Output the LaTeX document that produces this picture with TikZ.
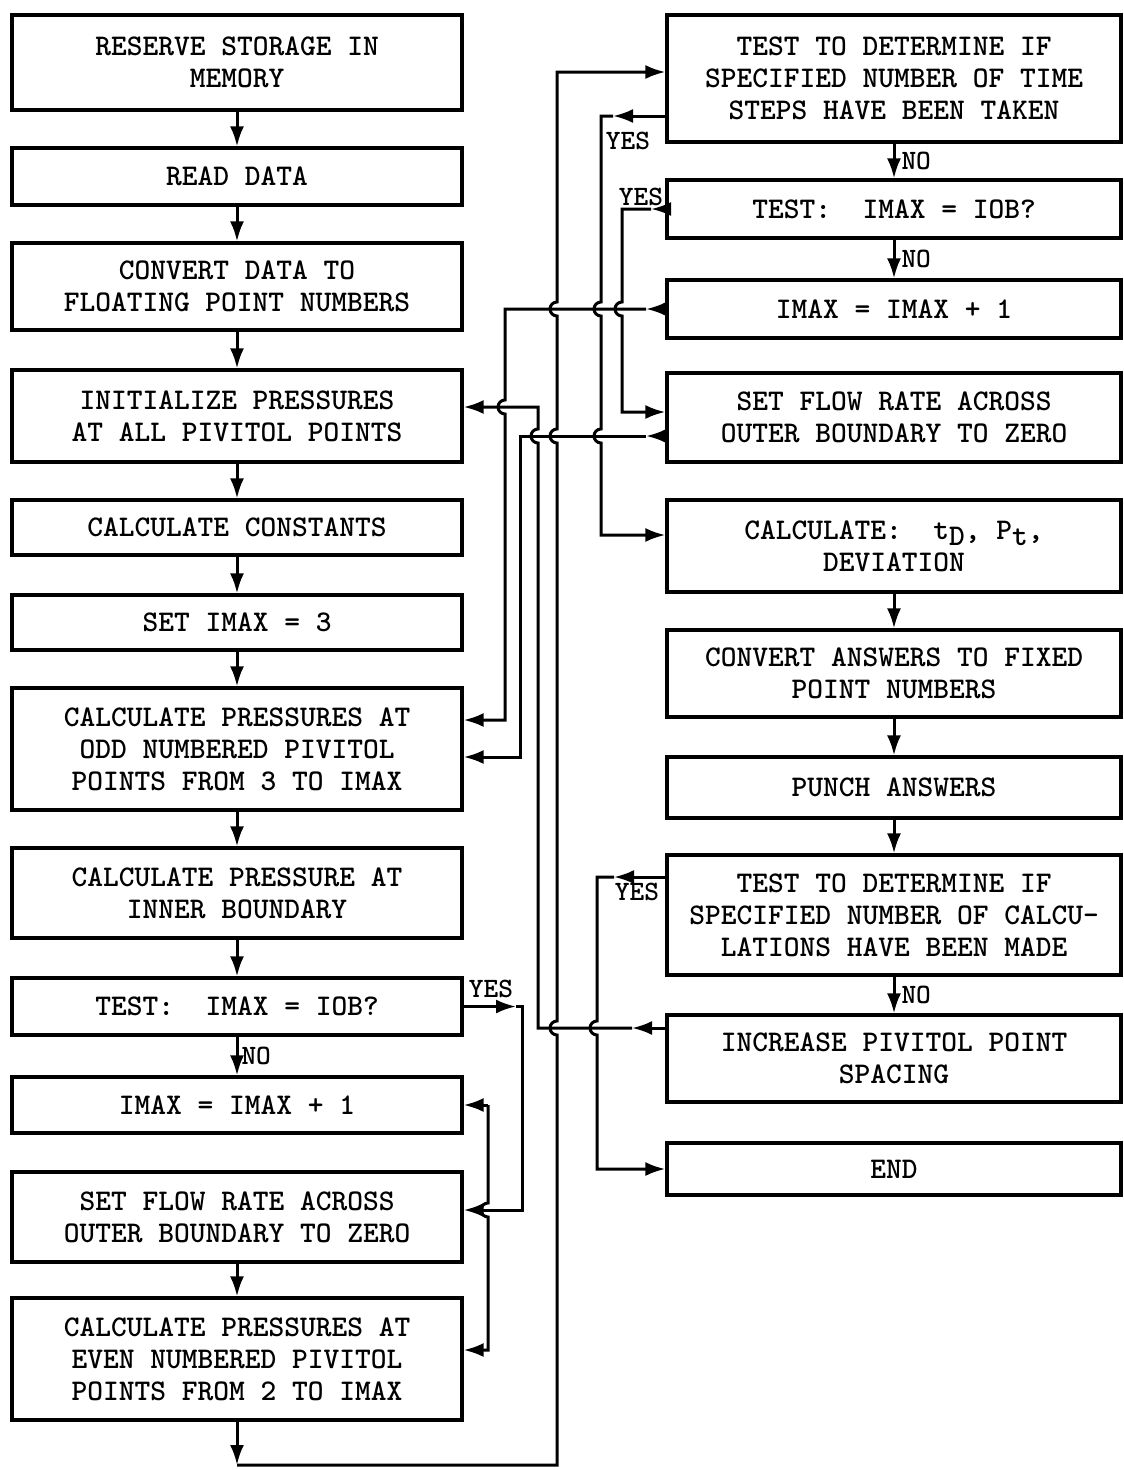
\documentclass[tikz,border=0pt]{standalone}
\usetikzlibrary{arrows.meta}

\begin{document}
\begin{tikzpicture}[x=1pt, y=-1pt,
  box/.style={draw, line width=3.2pt, minimum width=450pt, inner sep=0pt,
              align=center, font=\ttfamily\bfseries\fontsize{30}{32}\selectfont},
  rbox/.style={box, minimum width=454pt},
  arr/.style={-{Latex[length=20pt,width=14pt]}, line width=3pt},
  lbl/.style={font=\ttfamily\bfseries\fontsize{28}{30}\selectfont, inner sep=0pt},
]
\useasboundingbox (0,0) rectangle (1124,1470);

% left column
\node[box, minimum height=95pt] (mem) at (237,62.5) {RESERVE STORAGE IN\\MEMORY};
\node[box, minimum height=57pt] (rd) at (237,176.5) {READ DATA};
\node[box, minimum height=87pt] (conv) at (237,286.5)
  {CONVERT DATA TO\\FLOATING POINT NUMBERS};
\node[box, minimum height=92pt] (init) at (237,416)
  {INITIALIZE PRESSURES\\AT ALL PIVITOL POINTS};
\node[box, minimum height=55pt] (const) at (237,527.5) {CALCULATE CONSTANTS};
\node[box, minimum height=55pt] (set3) at (237,622.5) {SET IMAX = 3};
\node[box, minimum height=122pt] (odd) at (237,749)
  {CALCULATE PRESSURES AT\\ODD NUMBERED PIVITOL\\POINTS FROM 3 TO IMAX};
\node[box, minimum height=90pt] (inner) at (237,893)
  {CALCULATE PRESSURE AT\\INNER BOUNDARY};
\node[box, minimum height=57pt] (test) at (237,1006.5) {TEST:\ \ IMAX = IOB?};
\node[box, minimum height=56pt] (incr) at (237,1105) {IMAX = IMAX + 1};
\node[box, minimum height=90pt] (flow) at (237,1217)
  {SET FLOW RATE ACROSS\\OUTER BOUNDARY TO ZERO};
\node[box, minimum height=122pt] (even) at (237,1359)
  {CALCULATE PRESSURES AT\\EVEN NUMBERED PIVITOL\\POINTS FROM 2 TO IMAX};

% right column
\node[rbox, minimum height=127pt] (tsteps) at (894,78.5)
  {TEST TO DETERMINE IF\\SPECIFIED NUMBER OF TIME\\STEPS HAVE BEEN TAKEN};
\node[rbox, minimum height=58pt] (rtest) at (894,209) {TEST:\ \ IMAX = IOB?};
\node[rbox, minimum height=58pt] (rincr) at (894,309) {IMAX = IMAX + 1};
\node[rbox, minimum height=89pt] (rflow) at (894,417.5)
  {SET FLOW RATE ACROSS\\OUTER BOUNDARY TO ZERO};
\node[rbox, minimum height=92pt] (calc) at (894,546)
  {CALCULATE:\ \ t\raisebox{-6pt}{D}, P\raisebox{-6pt}{t},\\DEVIATION};
\node[rbox, minimum height=87pt] (fixed) at (894,673.5)
  {CONVERT ANSWERS TO FIXED\\POINT NUMBERS};
\node[rbox, minimum height=61pt] (punch) at (894,787.5) {PUNCH ANSWERS};
\node[rbox, minimum height=120pt] (tcalc) at (894,915)
  {TEST TO DETERMINE IF\\SPECIFIED NUMBER OF CALCU-\\LATIONS HAVE BEEN MADE};
\node[rbox, minimum height=87pt] (spacing) at (894,1058.5)
  {INCREASE PIVITOL POINT\\SPACING};
\node[rbox, minimum height=52pt] (stop) at (894,1169) {END};

% straight flow
\draw[arr] (mem) -- (rd);     \draw[arr] (rd) -- (conv);
\draw[arr] (conv) -- (init);  \draw[arr] (init) -- (const);
\draw[arr] (const) -- (set3); \draw[arr] (set3) -- (odd);
\draw[arr] (odd) -- (inner);  \draw[arr] (inner) -- (test);
\draw[arr] (test) -- node[lbl, right=3pt] {NO} (incr);
\draw[arr] (flow) -- (even);
\draw[arr] (tsteps) -- node[lbl, right=6pt] {NO} (rtest);
\draw[arr] (rtest) -- node[lbl, right=6pt] {NO} (rincr);
\draw[arr] (calc) -- (fixed); \draw[arr] (fixed) -- (punch);
\draw[arr] (punch) -- (tcalc);
\draw[arr] (tcalc) -- node[lbl, right=6pt] {NO} (spacing);

% YES branches
\node[lbl] (yes1) at (628,141) {YES};
\node[lbl] (yes2) at (641,197) {YES};
\node[lbl] (yes3) at (637,892) {YES};
\node[lbl] (yes4) at (491,989) {YES};

\draw[arr] (test.east) -- (516,1006.5);
\draw[arr] (516,1006.5) -- (522,1006.5) -- (522,1210) -- (flow.east |- 0,1210);

\draw[arr] (488,1105) -- (incr.east);
\draw[arr] (488,1105) -- (488,1203) arc[start angle=270, end angle=90, radius=7]
  -- (488,1350) -- (even.east |- 0,1350);

\draw[arr] (tsteps.west |- 0,116) -- (613,116);
\draw[arr] (613,116) -- (601,116)
  -- (601,302) arc[start angle=270, end angle=90, radius=7]
  -- (601,429) arc[start angle=270, end angle=90, radius=7]
  -- (601,535) -- (calc.west |- 0,535);

\draw[arr] (rtest.west) -- (651,209);
\draw[arr] (651,209) -- (622,209)
  -- (622,302) arc[start angle=270, end angle=90, radius=7]
  -- (622,412) -- (rflow.west |- 0,412);

\draw[arr] (rincr.west) -- (646,309);
\draw[arr] (646,309) -- (505,309)
  -- (505,400) arc[start angle=270, end angle=90, radius=7]
  -- (505,720) -- (odd.east |- 0,720);

\draw[arr] (rflow.west |- 0,436) -- (646,436);
\draw[arr] (646,436) -- (520,436) -- (520,757) -- (odd.east |- 0,757);

\draw[arr] (spacing.west |- 0,1028) -- (632,1028);
\draw[arr] (632,1028) -- (538,1028)
  -- (538,443) arc[start angle=90, end angle=270, radius=7]
  -- (538,407) -- (init.east |- 0,407);

\draw[arr] (tcalc.west |- 0,877) -- (614,877);
\draw[arr] (614,877) -- (597,877)
  -- (597,1021) arc[start angle=270, end angle=90, radius=7]
  -- (597,1169) -- (stop.west);

% main loop back to the top
\coordinate (bend) at (237,1465);
\draw[arr] (even) -- (bend);
\draw[arr] (bend) -- (557,1465)
  -- (557,1035) arc[start angle=90, end angle=270, radius=7]
  -- (557,443) arc[start angle=90, end angle=270, radius=7]
  -- (557,316) arc[start angle=90, end angle=270, radius=7]
  -- (557,72) -- (tsteps.west |- 0,72);
\end{tikzpicture}
\end{document}
